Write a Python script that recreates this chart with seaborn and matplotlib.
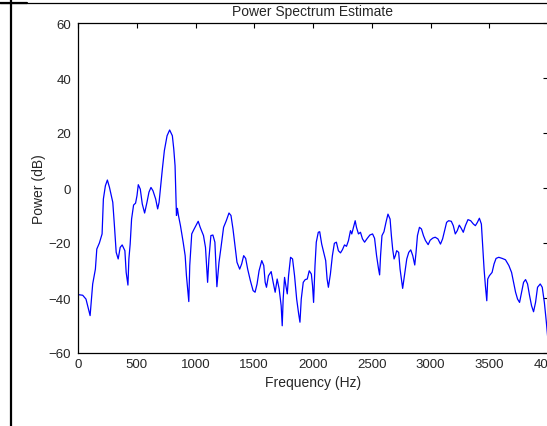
import numpy as np
import matplotlib
matplotlib.use("Agg")
import matplotlib.pyplot as plt
from matplotlib.lines import Line2D
import seaborn as sns

freq_hz = [6, 40, 68, 103, 125, 148, 160, 182, 205, 216, 233, 250, 268, 296, 310, 325, 342, 359, 376, 399,
           410, 425, 433, 444, 456, 473, 490, 502, 513, 530, 547, 567, 587, 604, 621, 638, 661, 678, 690, 701,
           718, 735, 758, 780, 803, 815, 826, 838, 846, 855, 872, 895, 912, 923, 934, 943, 951, 968, 985, 1023,
           1040, 1068, 1085, 1103, 1114, 1131, 1148, 1165, 1182, 1200, 1217, 1239, 1262, 1285, 1302, 1319, 1336,
           1353, 1376, 1393, 1410, 1427, 1444, 1467, 1490, 1507, 1524, 1541, 1564, 1581, 1593, 1604, 1621, 1644,
           1661, 1678, 1695, 1712, 1729, 1738, 1746, 1758, 1769, 1781, 1792, 1809, 1826, 1843, 1861, 1878, 1889,
           1900, 1917, 1934, 1951, 1968, 1986, 1996, 2005, 2017, 2028, 2045, 2057, 2074, 2091, 2108, 2120, 2131,
           2148, 2165, 2182, 2199, 2216, 2234, 2251, 2268, 2285, 2302, 2319, 2330, 2342, 2359, 2370, 2387, 2404,
           2421, 2439, 2462, 2484, 2507, 2524, 2541, 2558, 2567, 2575, 2587, 2604, 2621, 2638, 2656, 2667, 2678,
           2690, 2701, 2712, 2729, 2741, 2752, 2763, 2780, 2798, 2815, 2832, 2849, 2866, 2877, 2889, 2906, 2923,
           2940, 2957, 2980, 2997, 3020, 3040, 3063, 3085, 3103, 3120, 3137, 3154, 3177, 3194, 3211, 3228, 3245,
           3262, 3279, 3297, 3319, 3342, 3365, 3382, 3399, 3416, 3433, 3444, 3456, 3467, 3479, 3487, 3501, 3524,
           3541, 3558, 3581, 3610, 3638, 3667, 3690, 3707, 3724, 3741, 3758, 3775, 3792, 3809, 3826, 3843, 3860,
           3877, 3894, 3911, 3934, 3951, 3969, 3986, 4000]

power_db = [-38.8, -39.0, -40.4, -46.4, -34.9, -29.5, -22.2, -20.0, -16.7, -4.0, 0.8, 2.9, 0.2, -5.2, -13.7, -23.4,
            -25.8, -21.6, -20.7, -22.8, -30.7, -35.3, -25.8, -20.4, -11.3, -6.2, -5.5, -2.8, 1.2, -0.4, -5.8, -9.1,
            -5.2, -1.5, 0.2, -1.0, -4.0, -7.6, -5.2, -0.4, 6.9, 13.6, 19.0, 21.1, 19.0, 14.2, 8.1, -10.0, -7.4,
            -10.0, -13.7, -19.7, -24.6, -31.9, -37.3, -41.3, -28.2, -16.7, -15.2, -12.1, -14.3, -17.3, -21.6,
            -34.3, -25.8, -17.3, -17.1, -19.7, -35.9, -27.0, -21.6, -14.3, -11.9, -9.1, -10.0, -14.9, -21.0, -27.0,
            -29.5, -27.6, -24.6, -25.6, -29.5, -33.7, -37.3, -37.9, -34.9, -30.1, -26.4, -28.2, -34.3, -36.1,
            -31.9, -30.4, -34.3, -37.9, -33.1, -36.7, -42.8, -50.1, -40.4, -32.5, -35.5, -38.5, -31.9, -25.2,
            -25.8, -31.9, -40.4, -45.8, -48.8, -40.4, -34.3, -33.3, -33.1, -30.1, -31.3, -35.5, -41.6, -28.2,
            -19.7, -16.1, -15.9, -20.4, -23.4, -26.4, -33.1, -36.1, -31.3, -24.6, -20.1, -19.7, -22.8, -23.6,
            -22.4, -20.7, -21.2, -19.1, -15.5, -16.7, -14.7, -11.9, -14.3, -16.7, -16.1, -18.5, -19.7, -18.3,
            -17.1, -16.7, -18.3, -24.6, -29.5, -31.6, -24.6, -17.3, -15.9, -12.5, -9.5, -11.3, -17.3, -22.2,
            -25.8, -24.6, -22.8, -23.4, -29.5, -33.1, -36.5, -31.3, -25.8, -23.4, -22.5, -24.6, -28.0, -23.4,
            -17.3, -14.3, -14.9, -17.3, -19.1, -20.6, -19.0, -18.2, -17.9, -18.5, -20.4, -18.5, -15.5, -12.5,
            -11.9, -12.1, -13.7, -16.7, -15.5, -13.5, -14.7, -16.1, -13.7, -11.5, -11.9, -13.1, -13.7, -12.5,
            -11.0, -13.1, -21.0, -29.5, -35.5, -41.0, -33.1, -31.9, -30.7, -27.6, -25.6, -25.2, -25.6, -26.1,
            -28.2, -30.7, -34.3, -37.9, -40.4, -41.6, -37.9, -34.3, -33.3, -34.9, -39.1, -42.8, -45.0, -41.6,
            -36.1, -34.9, -36.1, -41.6, -48.8, -55.5]

x_ticks = [0, 500, 1000, 1500, 2000, 2500, 3000, 3500, 4000]
y_ticks = [-60, -40, -20, 0, 20, 40, 60]

title_text = "Power Spectrum Estimate"
x_label = "Frequency (Hz)"
y_label = "Power (dB)"

sns.set_style("white")
plt.rcParams['font.family'] = ['Liberation Sans', 'DejaVu Sans']

W, H = 547, 427
fig = plt.figure(figsize=(W / 100, H / 100), dpi=100)
fig.patch.set_facecolor("white")
ax = fig.add_axes([78 / W, (H - 354) / H, (548 - 78) / W, (354 - 24) / H])

sns.lineplot(x=freq_hz, y=power_db, ax=ax, color="#0000ff", linewidth=0.9, sort=False)

ax.set_xlim(0, 4000)
ax.set_ylim(-60, 60)
ax.set_xticks(x_ticks)
ax.set_yticks(y_ticks)
txtc = "#262626"
ax.tick_params(direction="in", top=True, right=True, length=3.5, width=0.8,
               colors="black", labelcolor=txtc, labelsize=9.5)
ax.tick_params(axis="y", pad=5)
ax.tick_params(axis="x", pad=3.5)
for s in ax.spines.values():
    s.set_visible(True)
    s.set_color("black")
    s.set_linewidth(0.9)

ax.set_title(title_text, fontsize=10, color=txtc, pad=6)
ax.set_xlabel(x_label, fontsize=10, color=txtc, labelpad=3.5)
ax.set_ylabel(y_label, fontsize=10, color=txtc, labelpad=2)

# screenshot frame decorations
fig.add_artist(Line2D([11 / W, 11 / W], [0, 1], transform=fig.transFigure, color="black", lw=1.6))
fig.add_artist(Line2D([0, 1], [1 - 3.5 / H, 1 - 3.5 / H], transform=fig.transFigure, color="black", lw=0.9))
fig.add_artist(Line2D([0, 27 / W], [1 - 3.5 / H, 1 - 3.5 / H], transform=fig.transFigure, color="black", lw=1.6))

fig.savefig("out.png", dpi=100, facecolor="white")
